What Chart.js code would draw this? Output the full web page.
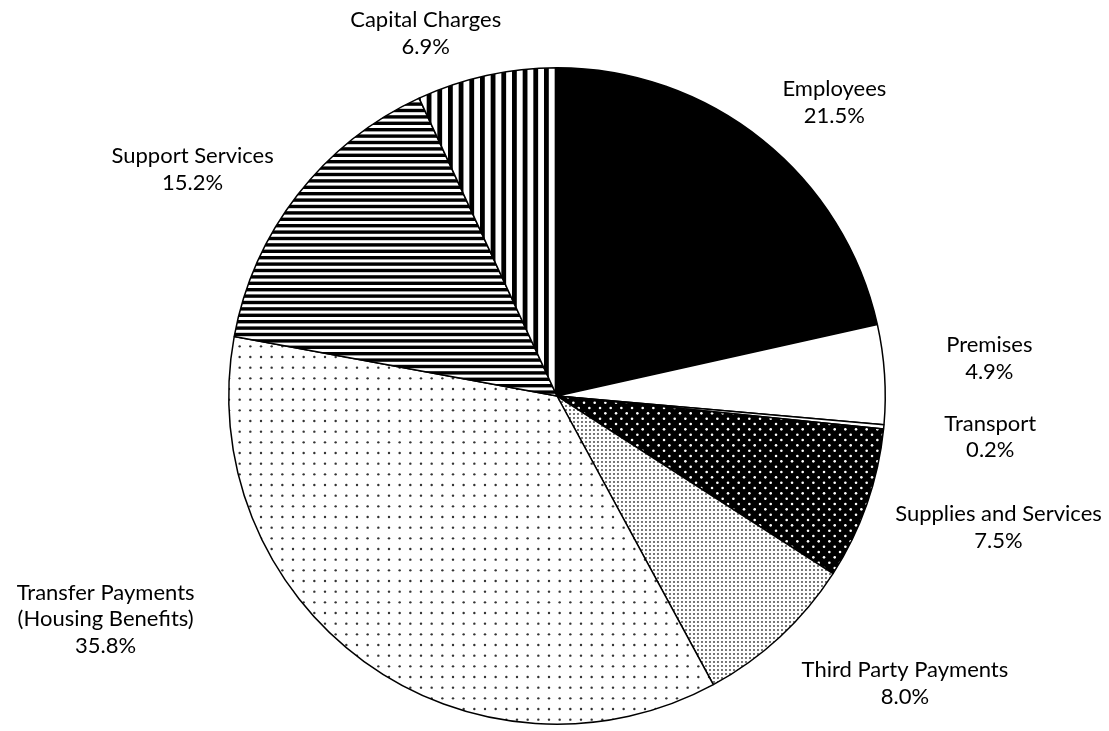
<!DOCTYPE html>
<html>
<head>
<meta charset="utf-8">
<script src="https://cdn.jsdelivr.net/npm/chart.js@4.4.1/dist/chart.umd.min.js"></script>
<style>
  html, body { margin: 0; padding: 0; background: #fff; }
  #wrap { width: 1109px; height: 731px; position: relative; }
</style>
</head>
<body>
<div id="wrap"><canvas id="pie"></canvas></div>
<script>
// ---------- data ----------
var categories = [
  "Employees",
  "Premises",
  "Transport",
  "Supplies and Services",
  "Third Party Payments",
  "Transfer Payments|(Housing Benefits)",
  "Support Services",
  "Capital Charges"
];
var shares = [21.5, 4.9, 0.2, 7.5, 8.0, 35.8, 15.2, 6.9];

// where each label sits, relative to the pie centre, in units of the radius
var labelOffsets = [
  [0.845, -0.895], [1.317, -0.115], [1.32, 0.125], [1.345, 0.40],
  [1.06, 0.875], [-1.375, 0.68], [-1.11, -0.69], [-0.40, -1.105]
];

// ---------- fill patterns (32px tiles = 3 x 10.67px cells) ----------
function tile(bg, draw) {
  var c = document.createElement("canvas");
  c.width = c.height = 32;
  var g = c.getContext("2d");
  g.fillStyle = bg;
  g.fillRect(0, 0, 32, 32);
  draw(g);
  return g.createPattern(c, "repeat");
}
function dot(g, x, y, r, col) {
  g.fillStyle = col;
  g.beginPath();
  g.arc(x, y, r, 0, Math.PI * 2);
  g.fill();
}
var cell = 32 / 3;

var patSupplies = tile("#000", function (g) {
  for (var row = 0; row < 6; row++)
    for (var i = 0; i < 3; i++)
      dot(g, 2.7 + i * cell + (row % 2 ? cell / 2 : 0), 2.7 + row * cell / 2, 1.3, "#fff");
});
var patThird = tile("#fff", function (g) {
  for (var y = 0; y < 8; y++)
    for (var x = 0; x < 8; x++)
      dot(g, 2 + x * 4, 2 + y * 4, 1.05, "#555");
});
var patTransfer = tile("#fff", function (g) {
  for (var y = 0; y < 3; y++)
    for (var x = 0; x < 3; x++)
      dot(g, 5 + x * cell, 5 + y * cell, 1.2, "#333");
});
var patSupport = tile("#fff", function (g) {
  g.fillStyle = "#000";
  for (var i = 0; i < 5; i++) g.fillRect(0, i * 6.4, 32, 3.4);
});
var patCapital = tile("#fff", function (g) {
  g.fillStyle = "#000";
  for (var i = 0; i < 3; i++) g.fillRect(i * cell, 0, 4.8, 32);
});

var fills = ["#000", "#fff", "#fff", patSupplies, patThird, patTransfer, patSupport, patCapital];

// ---------- labels ----------
var labelPlugin = {
  id: "pieLabels",
  afterDatasetsDraw: function (chart) {
    var arc = chart.getDatasetMeta(0).data[0];
    if (!arc) return;
    var cx = arc.x, cy = arc.y, R = arc.outerRadius;
    var ctx = chart.ctx;
    ctx.save();
    ctx.fillStyle = "#000";
    ctx.font = "22px Lato";
    ctx.textAlign = "center";
    ctx.textBaseline = "middle";
    var lh = 26.5;
    categories.forEach(function (name, i) {
      var lines = name.split("|").concat([shares[i].toFixed(1) + "%"]);
      var x = cx + labelOffsets[i][0] * R;
      var y0 = cy + labelOffsets[i][1] * R - (lines.length - 1) * lh / 2;
      lines.forEach(function (t, k) { ctx.fillText(t, x, y0 + k * lh); });
    });
    ctx.restore();
  }
};

new Chart(document.getElementById("pie"), {
  type: "pie",
  data: {
    labels: categories.map(function (c) { return c.replace("|", " "); }),
    datasets: [{
      data: shares,
      backgroundColor: fills,
      borderColor: "#000",
      borderWidth: 1.5
    }]
  },
  options: {
    responsive: true,
    maintainAspectRatio: false,
    animation: false,
    layout: { padding: { left: 228, right: 223, top: 67, bottom: 6 } },
    plugins: { legend: { display: false }, tooltip: { enabled: false } }
  },
  plugins: [labelPlugin]
});
</script>
</body>
</html>
